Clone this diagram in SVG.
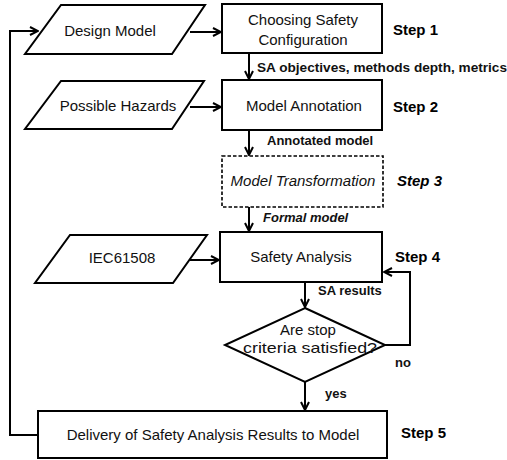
<svg xmlns="http://www.w3.org/2000/svg" width="507" height="460" viewBox="0 0 507 460">
<defs>
<style>
.shape{fill:#fff;stroke:#000;stroke-width:2}
.dash{fill:#fff;stroke:#000;stroke-width:1.6;stroke-dasharray:3.5,2}
.t{font-family:"Liberation Sans",Arial,sans-serif;font-size:15px;fill:#111;text-anchor:middle}
.lbl{font-family:"Liberation Sans",Arial,sans-serif;font-size:13px;font-weight:bold;fill:#111}
.step{font-family:"Liberation Sans",Arial,sans-serif;font-size:15px;font-weight:bold;fill:#000}
.conn{fill:none;stroke:#000;stroke-width:2;marker-end:url(#arr)}
</style>
<marker id="arr" viewBox="0 0 10 10" refX="9" refY="5" markerWidth="10" markerHeight="10" markerUnits="userSpaceOnUse" orient="auto">
<path d="M1,1 L9,5 L1,9" fill="none" stroke="#000" stroke-width="2"/>
</marker>
</defs>
<rect width="507" height="460" fill="#fff"/>
<g id="connectors">
<path class="conn" d="M190,32 H221"/>
<path class="conn" d="M190,107 H221"/>
<path class="conn" d="M190,260 H219"/>
<path class="conn" d="M249,53 V79"/>
<path class="conn" d="M249,130 V155"/>
<path class="conn" d="M249,207 V231"/>
<path class="conn" d="M305,282 V307"/>
<path class="conn" d="M305,382 V410"/>
<path class="conn" d="M385,345 H410 V272 H384"/>
<path class="conn" d="M38,435 H10 V31 H38"/>
<text class="lbl" x="257" y="72" textLength="250" lengthAdjust="spacingAndGlyphs">SA objectives, methods  depth, metrics</text>
<text class="lbl" x="267" y="145">Annotated  model</text>
<text class="lbl" x="263" y="222" font-style="italic">Formal model</text>
<text class="lbl" x="318" y="295">SA results</text>
<text class="lbl" x="395" y="367">no</text>
<text class="lbl" x="325" y="398">yes</text>
</g>
<g id="design-model">
<polygon class="shape" points="61,5 205,5 172,54 25,54"/>
<text class="t" x="110" y="36">Design Model</text>
</g>
<g id="possible-hazards">
<polygon class="shape" points="61,81 204,81 172,129 25,129"/>
<text class="t" x="118" y="111">Possible Hazards</text>
</g>
<g id="iec61508">
<polygon class="shape" points="70,235 207,235 173,283 35,283"/>
<text class="t" x="122" y="263">IEC61508</text>
</g>
<g id="step1">
<rect class="shape" x="222" y="4" width="160" height="49"/>
<text class="t" x="303" y="25">Choosing Safety</text>
<text class="t" x="303" y="45">Configuration</text>
<text class="step" x="393" y="35">Step 1</text>
</g>
<g id="step2">
<rect class="shape" x="222" y="80" width="160" height="50"/>
<text class="t" x="304" y="111">Model Annotation</text>
<text class="step" x="393" y="112">Step 2</text>
</g>
<g id="step3">
<rect class="dash" x="222" y="156" width="161" height="51"/>
<text class="t" x="303" y="186" font-style="italic">Model Transformation</text>
<text class="step" x="397" y="186" font-style="italic">Step 3</text>
</g>
<g id="step4">
<rect class="shape" x="220" y="232" width="162" height="50"/>
<text class="t" x="301" y="262">Safety Analysis</text>
<text class="step" x="395" y="262">Step 4</text>
</g>
<g id="decision">
<polygon class="shape" points="305,308 385,345 305,382 225,345"/>
<text class="t" x="308" y="335" font-size="16">Are stop</text>
<text class="t" x="310" y="353" font-size="16" textLength="134" lengthAdjust="spacingAndGlyphs">criteria satisfied?</text>
</g>
<g id="step5">
<rect class="shape" x="38" y="411" width="349" height="47"/>
<text class="t" x="213" y="440" font-size="16">Delivery of Safety Analysis Results to Model</text>
<text class="step" x="401" y="438">Step 5</text>
</g>
</svg>
